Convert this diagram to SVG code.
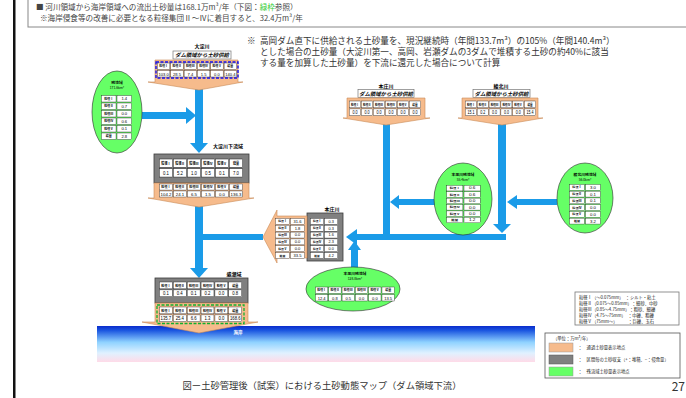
<svg xmlns="http://www.w3.org/2000/svg" xmlns:xlink="http://www.w3.org/1999/xlink" width="686" height="398" viewBox="0 0 686 398">
<style>
text{font-family:"Noto Sans CJK JP","Liberation Sans",sans-serif}
.h{font-size:3.1px;font-weight:bold;text-anchor:middle}
.v{font-size:4.3px;text-anchor:middle;font-family:"Liberation Sans","Noto Sans CJK JP",sans-serif}
.c{fill:#fff;stroke:#222;stroke-width:0.4}
.bl{fill:#1a9be8}
.or{fill:#f6bb8c;stroke:#c98b58;stroke-width:0.6}
.gr{fill:#808080;stroke:#3a3a3a;stroke-width:0.8}
.gn{fill:#66ff66;stroke:#2a2a2a;stroke-width:0.6}
.rl{font-size:5px;font-weight:bold;text-anchor:middle}
.lb{fill:#fff;stroke:#777;stroke-width:0.7}
.lbt{font-size:5.4px;font-weight:bold;font-style:italic;text-anchor:middle}
.el{font-size:3.8px;font-weight:bold;text-anchor:middle}
.es{font-size:3.3px;text-anchor:middle}
.nt{font-size:8.6px;fill:#333}
.hd{font-size:7.6px;fill:#444}
.lg{font-size:4.3px;fill:#222}
</style>
<defs>
<linearGradient id="sea" x1="0" y1="0" x2="0" y2="1">
<stop offset="0" stop-color="#0a2ccc"/>
<stop offset="0.12" stop-color="#1a55e0"/>
<stop offset="0.45" stop-color="#8fd2ff"/>
<stop offset="0.75" stop-color="#dff1ff"/>
<stop offset="1" stop-color="#ffdbe8"/>
</linearGradient>
<g id="ht">
<rect class="c" x="0.5" y="0" width="13" height="6.5"/><rect class="c" x="14.5" y="0" width="13" height="6.5"/><rect class="c" x="28.5" y="0" width="13" height="6.5"/><rect class="c" x="42.5" y="0" width="13" height="6.5"/><rect class="c" x="56.5" y="0" width="13" height="6.5"/><rect class="c" x="70.5" y="0" width="13" height="6.5"/>
<rect class="c" x="0.5" y="7.5" width="13" height="6.5"/><rect class="c" x="14.5" y="7.5" width="13" height="6.5"/><rect class="c" x="28.5" y="7.5" width="13" height="6.5"/><rect class="c" x="42.5" y="7.5" width="13" height="6.5"/><rect class="c" x="56.5" y="7.5" width="13" height="6.5"/><rect class="c" x="70.5" y="7.5" width="13" height="6.5"/>
<text class="h" x="7" y="4.4">粒径Ⅰ</text><text class="h" x="21" y="4.4">粒径Ⅱ</text><text class="h" x="35" y="4.4">粒径Ⅲ</text><text class="h" x="49" y="4.4">粒径Ⅳ</text><text class="h" x="63" y="4.4">粒径Ⅴ</text><text class="h" x="77" y="4.4">総量</text>
</g>
<g id="vt">
<rect class="c" x="0.5" y="0.5" width="15" height="6.5"/><rect class="c" x="16.5" y="0.5" width="15" height="6.5"/>
<rect class="c" x="0.5" y="8" width="15" height="6.5"/><rect class="c" x="16.5" y="8" width="15" height="6.5"/>
<rect class="c" x="0.5" y="15.5" width="15" height="6.5"/><rect class="c" x="16.5" y="15.5" width="15" height="6.5"/>
<rect class="c" x="0.5" y="23" width="15" height="6.5"/><rect class="c" x="16.5" y="23" width="15" height="6.5"/>
<rect class="c" x="0.5" y="30.5" width="15" height="6.5"/><rect class="c" x="16.5" y="30.5" width="15" height="6.5"/>
<rect class="c" x="0.5" y="38" width="15" height="6.5"/><rect class="c" x="16.5" y="38" width="15" height="6.5"/>
<text class="h" x="8" y="4.9">粒径Ⅰ</text><text class="h" x="8" y="12.4">粒径Ⅱ</text><text class="h" x="8" y="19.9">粒径Ⅲ</text><text class="h" x="8" y="27.4">粒径Ⅳ</text><text class="h" x="8" y="34.9">粒径Ⅴ</text><text class="h" x="8" y="42.4">総量</text>
</g>
</defs>

<rect width="686" height="398" fill="#fff"/>
<rect x="13" y="0" width="2.5" height="398" fill="#111"/>

<g id="header">
<rect x="28" y="-6" width="700" height="33" fill="none" stroke="#888" stroke-width="1"/>
<text class="hd" x="36" y="9.5">■ 河川領域から海岸領域への流出土砂量は168.1万m³/年（下図：<tspan fill="#33cc33">緑枠</tspan>参照）</text>
<text class="hd" x="40" y="20.5">※海岸侵食等の改善に必要となる粒径集団Ⅱ～Ⅳに着目すると、32.4万m³/年</text>
</g>

<g id="note">
<text class="nt" x="247" y="44">※</text>
<text class="nt" x="260" y="44">高岡ダム直下に供給される土砂量を、現況継続時（年間133.7m³）の105%（年間140.4m³）</text>
<text class="nt" x="260" y="55">とした場合の土砂量（大淀川第一、高岡、岩瀬ダムの3ダムで堆積する土砂の約40%に該当</text>
<text class="nt" x="260" y="66">する量を加算した土砂量）を下流に還元した場合について計算</text>
</g>

<g id="sea">
<rect x="97" y="326" width="438" height="36" fill="url(#sea)"/>
<text x="238" y="334" font-size="4.5" font-weight="bold" fill="#fff" text-anchor="middle">海岸</text>
</g>

<g id="connectors">
<rect class="bl" x="195" y="89" width="8" height="55"/>
<polygon class="bl" points="190,143 208,143 199,153"/>
<rect class="bl" x="142" y="112" width="45" height="7"/>
<polygon class="bl" points="186,107 186,124 196,115.5"/>
<rect class="bl" x="195" y="206" width="8" height="63"/>
<polygon class="bl" points="190,268 208,268 199,278"/>
<rect class="bl" x="203" y="234" width="60" height="6"/>
<rect class="bl" x="383" y="124" width="7" height="112"/>
<rect class="bl" x="498" y="124" width="8" height="101"/>
<polygon class="bl" points="493,224 511,224 502,233"/>
<rect class="bl" x="356" y="234" width="150" height="6"/>
<polygon class="bl" points="357,229 357,245 346,237"/>
<rect class="bl" x="398" y="199" width="37" height="6"/>
<polygon class="bl" points="399,195 399,209 390,202"/>
<rect class="bl" x="516" y="199" width="41" height="6"/>
<polygon class="bl" points="517,195 517,209 507,202"/>
<rect class="bl" x="351" y="249" width="7" height="19"/>
<polygon class="bl" points="348,250 361,250 354.5,241"/>
</g>

<g id="oyodo-dam">
<text class="rl" x="202" y="48">大淀川</text>
<rect class="lb" x="173" y="51" width="58" height="8"/>
<text class="lbt" x="202" y="57.3">ダム領域から土砂供給</text>
<polygon class="or" points="155,60 238,60 238,82 243,82 199,90 148,82 155,82"/>
<g transform="translate(157,63) scale(0.952,1)">
<use xlink:href="#ht"/>
<text class="v" x="7" y="12.6">103.0</text><text class="v" x="21" y="12.6">28.5</text><text class="v" x="35" y="12.6">7.4</text><text class="v" x="49" y="12.6">1.5</text><text class="v" x="63" y="12.6">0.0</text><text class="v" x="77" y="12.6">140.4</text>
</g>
<rect x="156" y="62" width="82" height="16" fill="none" stroke="#1010ee" stroke-width="1.4" stroke-dasharray="3,1.5"/>
</g>

<g id="honjo-dam">
<text class="rl" x="386" y="88">本庄川</text>
<rect class="lb" x="358" y="89.5" width="56" height="8"/>
<text class="lbt" x="386" y="95.8">ダム領域から土砂供給</text>
<polygon class="or" points="347,98 425,98 425,118 430,118 386,125 343,118 347,118"/>
<g transform="translate(349,101) scale(0.857,1.05)">
<use xlink:href="#ht"/>
<text class="v" x="7" y="12.6">0.0</text><text class="v" x="21" y="12.6">0.0</text><text class="v" x="35" y="12.6">0.0</text><text class="v" x="49" y="12.6">0.0</text><text class="v" x="63" y="12.6">0.0</text><text class="v" x="77" y="12.6">0.0</text>
</g>
</g>

<g id="ayakita-dam">
<text class="rl" x="501" y="88">綾北川</text>
<rect class="lb" x="473" y="89.5" width="57" height="8"/>
<text class="lbt" x="501.5" y="95.8">ダム領域から土砂供給</text>
<polygon class="or" points="462,98 538,98 538,118 543,118 502,125 458,118 462,118"/>
<g transform="translate(465,101) scale(0.845,1.05)">
<use xlink:href="#ht"/>
<text class="v" x="7" y="12.6">15.1</text><text class="v" x="21" y="12.6">0.2</text><text class="v" x="35" y="12.6">0.0</text><text class="v" x="49" y="12.6">0.0</text><text class="v" x="63" y="12.6">0.0</text><text class="v" x="77" y="12.6">15.4</text>
</g>
</g>

<g id="left-residual">
<ellipse class="gn" cx="117" cy="112" rx="25" ry="41"/>
<text class="el" x="117" y="84">残流域</text>
<text class="es" x="117" y="89">171.6km²</text>
<g transform="translate(101,95) scale(0.97,1)">
<use xlink:href="#vt"/>
<text class="v" x="24" y="5.3">1.4</text><text class="v" x="24" y="12.8">0.7</text><text class="v" x="24" y="20.3">0.0</text><text class="v" x="24" y="27.8">0.6</text><text class="v" x="24" y="35.3">0.1</text><text class="v" x="24" y="42.8">2.8</text>
</g>
</g>

<g id="oyodo-lower">
<text class="rl" x="228" y="148">大淀川下流域</text>
<rect class="gr" x="154" y="154" width="95" height="29"/>
<g transform="translate(159,159) scale(1,1.29)">
<use xlink:href="#ht"/>
<text class="v" x="7" y="12.6">0.1</text><text class="v" x="21" y="12.6">5.2</text><text class="v" x="35" y="12.6">1.0</text><text class="v" x="49" y="12.6">0.5</text><text class="v" x="63" y="12.6">0.1</text><text class="v" x="77" y="12.6">7.0</text>
</g>
<polygon class="or" points="154,183 249,183 249,198 254,198 199,207 148,198 154,198"/>
<g transform="translate(159,184) scale(1,0.93)">
<use xlink:href="#ht"/>
<text class="v" x="7" y="12.6">104.2</text><text class="v" x="21" y="12.6">24.1</text><text class="v" x="35" y="12.6">6.5</text><text class="v" x="49" y="12.6">1.5</text><text class="v" x="63" y="12.6">0.0</text><text class="v" x="77" y="12.6">136.3</text>
</g>
</g>

<g id="honjo">
<text class="rl" x="332" y="211">本庄川</text>
<rect class="gr" x="307" y="213" width="36" height="48"/>
<polygon class="or" points="307,216 307,258 277,258 277,263 263,237 277,210 277,216"/>
<g transform="translate(275,218) scale(0.94,0.91)">
<use xlink:href="#vt"/>
<text class="v" x="24" y="5.3">31.6</text><text class="v" x="24" y="12.8">1.8</text><text class="v" x="24" y="20.3">0.0</text><text class="v" x="24" y="27.8">0.0</text><text class="v" x="24" y="35.3">0.0</text><text class="v" x="24" y="42.8">33.5</text>
</g>
<g transform="translate(310,218) scale(0.88,0.91)">
<use xlink:href="#vt"/>
<text class="v" x="24" y="5.3">0.3</text><text class="v" x="24" y="12.8">0.3</text><text class="v" x="24" y="20.3">1.6</text><text class="v" x="24" y="27.8">2.3</text><text class="v" x="24" y="35.3">0.0</text><text class="v" x="24" y="42.8">4.2</text>
</g>
</g>

<g id="honjo-residual">
<ellipse class="gn" cx="463" cy="199" rx="29" ry="36"/>
<text class="el" x="463" y="176">本庄川残流域</text>
<text class="es" x="463" y="181">55.4km²</text>
<g transform="translate(446,185) scale(1.09,0.85)">
<use xlink:href="#vt"/>
<text class="v" x="24" y="5.3">0.6</text><text class="v" x="24" y="12.8">0.6</text><text class="v" x="24" y="20.3">0.0</text><text class="v" x="24" y="27.8">0.0</text><text class="v" x="24" y="35.3">0.0</text><text class="v" x="24" y="42.8">1.2</text>
</g>
</g>

<g id="ayakita-residual">
<ellipse class="gn" cx="585" cy="198" rx="28" ry="35"/>
<text class="el" x="585" y="176">綾北川残流域</text>
<text class="es" x="585" y="181">56.0km²</text>
<g transform="translate(569,184) scale(1,0.9)">
<use xlink:href="#vt"/>
<text class="v" x="24" y="5.3">3.0</text><text class="v" x="24" y="12.8">0.1</text><text class="v" x="24" y="20.3">0.1</text><text class="v" x="24" y="27.8">0.0</text><text class="v" x="24" y="35.3">0.0</text><text class="v" x="24" y="42.8">3.2</text>
</g>
</g>

<g id="lower-residual">
<ellipse class="gn" cx="353" cy="289" rx="47" ry="22"/>
<text class="el" x="355" y="275">本庄川残流域</text>
<text class="es" x="355" y="280">128.8km²</text>
<g transform="translate(315,287) scale(0.95,1)">
<use xlink:href="#ht"/>
<text class="v" x="7" y="12.6">12.4</text><text class="v" x="21" y="12.6">0.8</text><text class="v" x="35" y="12.6">0.5</text><text class="v" x="49" y="12.6">0.0</text><text class="v" x="63" y="12.6">0.0</text><text class="v" x="77" y="12.6">13.5</text>
</g>
</g>

<g id="tidal">
<text class="rl" x="234" y="276">感潮域</text>
<rect class="gr" x="155" y="278" width="93" height="25"/>
<g transform="translate(159,282) scale(0.99,1.05)">
<use xlink:href="#ht"/>
<text class="v" x="7" y="12.6">0.1</text><text class="v" x="21" y="12.6">0.4</text><text class="v" x="35" y="12.6">0.1</text><text class="v" x="49" y="12.6">0.2</text><text class="v" x="63" y="12.6">0.0</text><text class="v" x="77" y="12.6">0.8</text>
</g>
<polygon class="or" points="155,303 248,303 248,322 258,322 199,333 142,322 155,322"/>
<g transform="translate(159,307) scale(0.99,1.05)">
<use xlink:href="#ht"/>
<text class="v" x="7" y="12.6">135.7</text><text class="v" x="21" y="12.6">25.4</text><text class="v" x="35" y="12.6">6.6</text><text class="v" x="49" y="12.6">1.3</text><text class="v" x="63" y="12.6">0.0</text><text class="v" x="77" y="12.6">168.6</text>
</g>
<rect x="157" y="305" width="87" height="18.5" fill="none" stroke="#10b030" stroke-width="1.3" stroke-dasharray="3,1.5"/>
</g>

<g id="size-legend">
<rect x="575" y="292" width="104" height="33" fill="#fff" stroke="#777" stroke-width="0.8"/>
<text class="lg" x="579" y="298.5">粒径Ⅰ（～0.075mm）　：シルト・粘土</text>
<text class="lg" x="579" y="304.5">粒径Ⅱ（0.075～0.85mm）：細砂、中砂</text>
<text class="lg" x="579" y="310.5">粒径Ⅲ（0.85～4.75mm）：粗砂、細礫</text>
<text class="lg" x="579" y="316.5">粒径Ⅳ（4.75～75mm）　：中礫、粗礫</text>
<text class="lg" x="579" y="322.5">粒径Ⅴ（75mm～）　　　：巨礫、玉石</text>
</g>

<g id="legend">
<rect x="545" y="333" width="135" height="45" fill="#fff" stroke="#555" stroke-width="0.8"/>
<text class="lg" x="553" y="340">（単位：万m³/年）</text>
<rect x="549" y="343" width="24" height="9" fill="#f6bb8c" stroke="#999" stroke-width="0.5"/>
<text class="lg" x="578" y="349">：　通過土砂量表示地点</text>
<rect x="549" y="355" width="24" height="9" fill="#808080" stroke="#555" stroke-width="0.5"/>
<text class="lg" x="578" y="361">：　区間毎の土砂収支（+：堆積、−：侵食量）</text>
<rect x="549" y="367" width="24" height="9" fill="#66ff66" stroke="#999" stroke-width="0.5"/>
<text class="lg" x="578" y="373">：　残流域土砂量表示地点</text>
</g>

<g id="caption">
<text x="322" y="389" font-size="9.3" fill="#333" text-anchor="middle">図ー土砂管理後（試案）における土砂動態マップ（ダム領域下流）</text>
<text x="685" y="391" font-size="12" fill="#333" text-anchor="end">27</text>
</g>
</svg>
